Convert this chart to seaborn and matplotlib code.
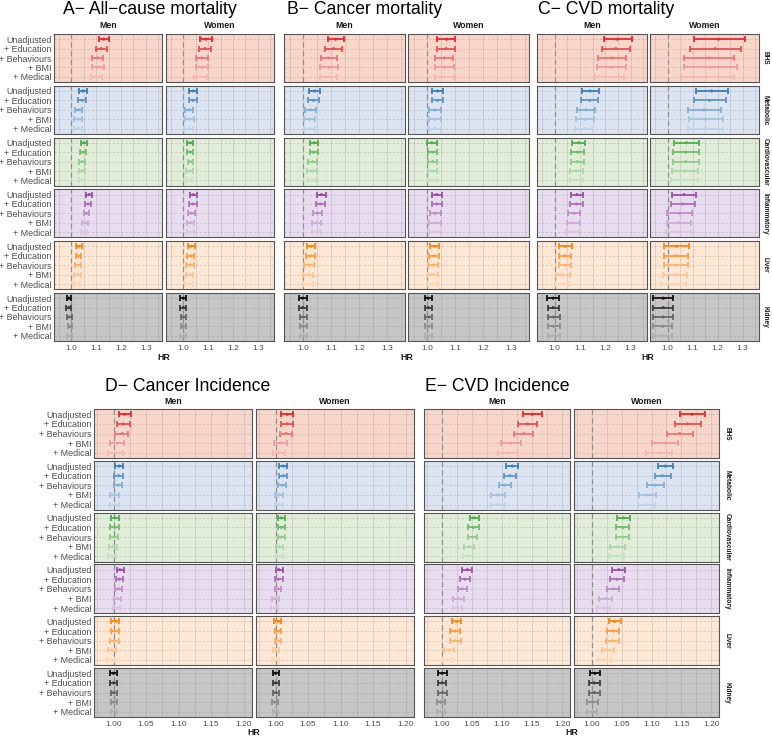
import numpy as np
import pandas as pd
import matplotlib
matplotlib.use("Agg")
import matplotlib.pyplot as plt
import seaborn as sns
from matplotlib.colors import to_rgb

sns.set_theme(style="white")
plt.rcParams['font.family'] = ['Liberation Sans', 'DejaVu Sans']

models = ["Unadjusted", "+ Education", "+ Behaviours", "+ BMI", "+ Medical"]
systems = ["BHS", "Metabolic", "Cardiovascular", "Inflammatory", "Liver", "Kidney"]
sexes = ["Men", "Women"]

# ---------------- A: All-cause mortality ----------------
A_men_est = [[1.130, 1.120, 1.105, 1.105, 1.100], [1.046, 1.043, 1.028, 1.027, 1.026], [1.050, 1.047, 1.043, 1.042, 1.042],
             [1.072, 1.067, 1.060, 1.054, 1.052], [1.030, 1.028, 1.026, 1.025, 1.022], [0.990, 0.989, 0.992, 0.994, 0.993]]
A_men_lo = [[1.110, 1.101, 1.084, 1.084, 1.080], [1.032, 1.028, 1.014, 1.012, 1.012], [1.039, 1.035, 1.031, 1.030, 1.031],
            [1.059, 1.054, 1.049, 1.043, 1.040], [1.019, 1.018, 1.015, 1.012, 1.009], [0.981, 0.980, 0.983, 0.985, 0.984]]
A_men_hi = [[1.151, 1.145, 1.127, 1.130, 1.125], [1.061, 1.057, 1.043, 1.043, 1.041], [1.061, 1.058, 1.055, 1.055, 1.054],
            [1.084, 1.080, 1.070, 1.065, 1.063], [1.041, 1.039, 1.038, 1.038, 1.035], [1.000, 0.999, 1.002, 1.004, 1.003]]
A_women_est = [[1.090, 1.087, 1.073, 1.075, 1.070], [1.040, 1.038, 1.024, 1.025, 1.022], [1.028, 1.028, 1.028, 1.025, 1.024],
               [1.040, 1.038, 1.032, 1.030, 1.028], [1.031, 1.030, 1.028, 1.026, 1.022], [1.000, 1.000, 1.000, 0.999, 0.999]]
A_women_lo = [[1.066, 1.063, 1.049, 1.049, 1.044], [1.023, 1.021, 1.008, 1.008, 1.004], [1.016, 1.016, 1.017, 1.012, 1.012],
              [1.026, 1.023, 1.018, 1.016, 1.013], [1.017, 1.016, 1.012, 1.012, 1.008], [0.988, 0.988, 0.989, 0.989, 0.988]]
A_women_hi = [[1.114, 1.112, 1.098, 1.101, 1.097], [1.056, 1.056, 1.040, 1.041, 1.040], [1.040, 1.040, 1.040, 1.038, 1.036],
              [1.053, 1.053, 1.045, 1.043, 1.043], [1.045, 1.044, 1.043, 1.040, 1.037], [1.012, 1.011, 1.011, 1.009, 1.010]]

# ---------------- B: Cancer mortality ----------------
B_men_est = [[1.115, 1.108, 1.090, 1.092, 1.090], [1.040, 1.037, 1.025, 1.022, 1.022], [1.039, 1.036, 1.033, 1.031, 1.031],
             [1.065, 1.061, 1.050, 1.047, 1.047], [1.026, 1.025, 1.020, 1.018, 1.018], [0.997, 0.997, 1.000, 1.000, 0.999]]
B_men_lo = [[1.088, 1.079, 1.063, 1.060, 1.059], [1.021, 1.017, 1.005, 1.003, 1.003], [1.024, 1.022, 1.017, 1.014, 1.017],
            [1.050, 1.046, 1.035, 1.031, 1.031], [1.011, 1.010, 1.002, 1.000, 1.000], [0.983, 0.984, 0.987, 0.987, 0.986]]
B_men_hi = [[1.146, 1.138, 1.122, 1.124, 1.122], [1.059, 1.057, 1.045, 1.040, 1.040], [1.054, 1.051, 1.050, 1.048, 1.046],
            [1.080, 1.076, 1.065, 1.063, 1.062], [1.042, 1.041, 1.037, 1.035, 1.035], [1.011, 1.011, 1.013, 1.013, 1.013]]
B_women_est = [[1.068, 1.067, 1.060, 1.061, 1.060], [1.036, 1.036, 1.026, 1.026, 1.026], [1.015, 1.018, 1.019, 1.017, 1.017],
               [1.033, 1.033, 1.028, 1.027, 1.027], [1.026, 1.025, 1.021, 1.020, 1.020], [1.003, 1.003, 1.004, 1.004, 1.004]]
B_women_lo = [[1.036, 1.036, 1.028, 1.026, 1.026], [1.016, 1.016, 1.005, 1.005, 1.005], [0.997, 1.001, 1.003, 1.001, 1.001],
              [1.016, 1.015, 1.010, 1.007, 1.007], [1.010, 1.007, 1.003, 1.002, 1.002], [0.990, 0.990, 0.991, 0.991, 0.992]]
B_women_hi = [[1.099, 1.099, 1.092, 1.095, 1.095], [1.057, 1.057, 1.048, 1.047, 1.050], [1.033, 1.034, 1.035, 1.033, 1.033],
              [1.051, 1.051, 1.047, 1.047, 1.047], [1.043, 1.042, 1.039, 1.039, 1.038], [1.017, 1.017, 1.018, 1.017, 1.017]]

# ---------------- C: CVD mortality ----------------
C_men_est = [[1.248, 1.242, 1.228, 1.222, 1.215], [1.140, 1.138, 1.124, 1.120, 1.117], [1.094, 1.090, 1.089, 1.085, 1.084],
             [1.088, 1.086, 1.077, 1.073, 1.070], [1.041, 1.040, 1.040, 1.032, 1.028], [0.994, 0.994, 0.996, 0.996, 0.996]]
C_men_lo = [[1.195, 1.187, 1.173, 1.166, 1.158], [1.107, 1.104, 1.090, 1.086, 1.082], [1.068, 1.064, 1.064, 1.059, 1.059],
            [1.063, 1.061, 1.051, 1.047, 1.045], [1.017, 1.016, 1.016, 1.005, 1.001], [0.971, 0.972, 0.972, 0.974, 0.974]]
C_men_hi = [[1.307, 1.298, 1.283, 1.281, 1.274], [1.177, 1.173, 1.159, 1.155, 1.153], [1.121, 1.117, 1.114, 1.112, 1.110],
            [1.113, 1.111, 1.102, 1.099, 1.096], [1.067, 1.066, 1.066, 1.059, 1.055], [1.017, 1.016, 1.020, 1.019, 1.019]]
C_women_est = [[1.203, 1.190, 1.165, 1.170, 1.158], [1.175, 1.168, 1.145, 1.152, 1.150], [1.075, 1.073, 1.073, 1.069, 1.066],
               [1.065, 1.060, 1.048, 1.046, 1.044], [1.036, 1.034, 1.033, 1.030, 1.024], [0.983, 0.983, 0.982, 0.980, 0.980]]
C_women_lo = [[1.105, 1.091, 1.067, 1.065, 1.054], [1.113, 1.105, 1.083, 1.086, 1.083], [1.025, 1.022, 1.022, 1.018, 1.014],
              [1.017, 1.012, 0.999, 0.997, 0.995], [0.987, 0.985, 0.984, 0.981, 0.974], [0.943, 0.942, 0.942, 0.941, 0.940]]
C_women_hi = [[1.311, 1.292, 1.267, 1.279, 1.267], [1.242, 1.233, 1.212, 1.221, 1.221], [1.126, 1.126, 1.126, 1.122, 1.120],
              [1.112, 1.108, 1.096, 1.095, 1.094], [1.085, 1.083, 1.082, 1.078, 1.074], [1.023, 1.023, 1.021, 1.018, 1.018]]

# ---------------- D: Cancer incidence ----------------
D_men_est = [[1.017, 1.015, 1.013, 1.006, 1.003], [1.009, 1.008, 1.007, 1.002, 1.002], [1.002, 1.002, 1.001, 0.999, 0.998],
             [1.010, 1.009, 1.008, 1.006, 1.005], [1.003, 1.002, 1.001, 0.998, 0.997], [1.000, 1.000, 1.000, 1.000, 1.000]]
D_men_lo = [[1.008, 1.005, 1.003, 0.995, 0.992], [1.002, 1.001, 1.000, 0.995, 0.995], [0.996, 0.995, 0.995, 0.993, 0.992],
            [1.005, 1.004, 1.002, 1.000, 0.999], [0.996, 0.996, 0.995, 0.992, 0.990], [0.995, 0.995, 0.996, 0.996, 0.996]]
D_men_hi = [[1.027, 1.025, 1.023, 1.016, 1.014], [1.015, 1.014, 1.013, 1.009, 1.009], [1.008, 1.008, 1.007, 1.005, 1.004],
            [1.016, 1.015, 1.013, 1.011, 1.010], [1.009, 1.009, 1.008, 1.004, 1.003], [1.005, 1.005, 1.005, 1.005, 1.005]]
D_women_est = [[1.018, 1.018, 1.016, 1.007, 1.005], [1.012, 1.012, 1.010, 1.005, 1.005], [1.009, 1.009, 1.009, 1.006, 1.006],
               [1.005, 1.004, 1.004, 1.000, 0.999], [1.004, 1.004, 1.004, 1.001, 1.000], [1.000, 1.000, 1.000, 0.999, 0.999]]
D_women_lo = [[1.009, 1.009, 1.007, 0.998, 0.996], [1.006, 1.006, 1.004, 0.999, 0.999], [1.004, 1.004, 1.004, 1.001, 1.000],
              [1.000, 0.999, 0.999, 0.994, 0.993], [0.998, 0.999, 0.999, 0.996, 0.994], [0.996, 0.996, 0.996, 0.995, 0.996]]
D_women_hi = [[1.027, 1.027, 1.025, 1.017, 1.014], [1.018, 1.018, 1.016, 1.012, 1.011], [1.015, 1.015, 1.015, 1.011, 1.011],
              [1.011, 1.011, 1.009, 1.005, 1.004], [1.009, 1.009, 1.009, 1.006, 1.005], [1.005, 1.005, 1.005, 1.004, 1.004]]

# ---------------- E: CVD incidence ----------------
E_men_est = [[1.150, 1.142, 1.136, 1.114, 1.110], [1.117, 1.113, 1.104, 1.093, 1.092], [1.054, 1.052, 1.051, 1.045, 1.043],
             [1.042, 1.038, 1.034, 1.027, 1.026], [1.024, 1.022, 1.022, 1.012, 1.008], [1.000, 1.000, 1.001, 0.998, 0.998]]
E_men_lo = [[1.134, 1.127, 1.120, 1.098, 1.093], [1.107, 1.103, 1.094, 1.082, 1.081], [1.046, 1.044, 1.043, 1.037, 1.035],
            [1.034, 1.030, 1.026, 1.019, 1.018], [1.016, 1.014, 1.014, 1.004, 1.000], [0.993, 0.993, 0.994, 0.991, 0.991]]
E_men_hi = [[1.166, 1.158, 1.152, 1.131, 1.126], [1.127, 1.123, 1.115, 1.104, 1.104], [1.062, 1.061, 1.059, 1.053, 1.051],
            [1.050, 1.047, 1.042, 1.036, 1.034], [1.032, 1.030, 1.031, 1.020, 1.017], [1.008, 1.007, 1.008, 1.005, 1.005]]
E_women_est = [[1.168, 1.160, 1.147, 1.123, 1.113], [1.123, 1.118, 1.106, 1.093, 1.091], [1.053, 1.052, 1.052, 1.043, 1.041],
               [1.045, 1.042, 1.036, 1.023, 1.020], [1.038, 1.036, 1.034, 1.027, 1.021], [1.005, 1.004, 1.004, 1.001, 1.001]]
E_women_lo = [[1.147, 1.139, 1.126, 1.101, 1.090], [1.110, 1.105, 1.092, 1.079, 1.077], [1.042, 1.041, 1.041, 1.031, 1.029],
              [1.034, 1.031, 1.025, 1.012, 1.009], [1.028, 1.026, 1.024, 1.017, 1.010], [0.996, 0.995, 0.995, 0.992, 0.992]]
E_women_hi = [[1.190, 1.182, 1.169, 1.145, 1.135], [1.136, 1.132, 1.120, 1.107, 1.105], [1.064, 1.063, 1.063, 1.055, 1.053],
              [1.056, 1.053, 1.046, 1.034, 1.031], [1.048, 1.046, 1.045, 1.037, 1.032], [1.014, 1.013, 1.013, 1.010, 1.009]]

titles = {"A": "A\u2212 All\u2212cause mortality", "B": "B\u2212 Cancer mortality", "C": "C\u2212 CVD mortality",
          "D": "D\u2212 Cancer Incidence", "E": "E\u2212 CVD Incidence"}

base_colors = ["#E8282B", "#3C80BF", "#4DAF4A", "#9C4FA8", "#FF8515", "#111111"]
bg_colors = ["#F9D6CA", "#DCE3F1", "#E1EDD9", "#E8DDEF", "#FEE8D5", "#C6C6C6"]
shade_mix = [1.0, 0.82, 0.64, 0.48, 0.34]

# ---- assemble long table ----
raw = {"A": (A_men_est, A_men_lo, A_men_hi, A_women_est, A_women_lo, A_women_hi),
       "B": (B_men_est, B_men_lo, B_men_hi, B_women_est, B_women_lo, B_women_hi),
       "C": (C_men_est, C_men_lo, C_men_hi, C_women_est, C_women_lo, C_women_hi),
       "D": (D_men_est, D_men_lo, D_men_hi, D_women_est, D_women_lo, D_women_hi),
       "E": (E_men_est, E_men_lo, E_men_hi, E_women_est, E_women_lo, E_women_hi)}
rows = []
for key, arrs in raw.items():
    for si, sex in enumerate(sexes):
        est, lo, hi = arrs[3 * si], arrs[3 * si + 1], arrs[3 * si + 2]
        for gi, sysname in enumerate(systems):
            for mi, m in enumerate(models):
                rows.append(dict(panel=key, sex=sex, system=sysname, model=m, ypos=mi + 1,
                                 est=est[gi][mi], lo=lo[gi][mi], hi=hi[gi][mi]))
df = pd.DataFrame(rows)


def shade(c, f):
    r = np.array(to_rgb(c))
    return tuple(1 - f * (1 - r))


W, H = 772, 736
fig = plt.figure(figsize=(W / 100, H / 100), dpi=100)


def add_ax(x0, x1, top, h):
    return fig.add_axes([x0 / W, 1 - (top + h) / H, (x1 - x0) / W, h / H])


top_cfg = dict(top=34, h=48, step=51.8, xlim=(0.93, 1.365), ticks=[1.0, 1.1, 1.2, 1.3],
               minor=[0.95, 1.05, 1.15, 1.25, 1.35], fmt="{:.1f}", strip_y=26, hr_y=358, title_y=10)
bot_cfg = dict(top=409, h=49, step=51.8, xlim=(0.970, 1.213), ticks=[1.00, 1.05, 1.10, 1.15, 1.20],
               minor=[0.975, 1.025, 1.075, 1.125, 1.175], fmt="{:.2f}", strip_y=402, hr_y=732.5, title_y=386)

layout = [
    ("A", top_cfg, [(54, 162), (166, 274)], 63, True, None),
    ("B", top_cfg, [(284, 405), (408, 529)], 287, False, None),
    ("C", top_cfg, [(537, 647), (650, 759)], 538, False, 765),
    ("D", bot_cfg, [(94, 252), (256, 414)], 105, True, None),
    ("E", bot_cfg, [(424, 570), (574, 719)], 425, False, 727),
]

text_grey = "#4D4D4D"
for key, cfg, cols, title_x, ylab, strip_x in layout:
    fig.text(title_x / W, 1 - cfg["title_y"] / H, titles[key], fontsize=12.7, ha="left", va="center", color="black")
    for ci, (x0, x1) in enumerate(cols):
        sex = sexes[ci]
        fig.text((x0 + x1) / 2 / W, 1 - cfg["strip_y"] / H, sex, fontsize=6.3, fontweight="bold",
                 ha="center", va="center", color="#1A1A1A")
        for gi, sysname in enumerate(systems):
            top = cfg["top"] + gi * cfg["step"]
            ax = add_ax(x0, x1, top, cfg["h"])
            ax.set_facecolor(bg_colors[gi])
            sub = df[(df.panel == key) & (df.sex == sex) & (df.system == sysname)]
            pal = {m: shade(base_colors[gi], shade_mix[mi]) for mi, m in enumerate(models)}
            ax.set_xticks(cfg["ticks"])
            ax.set_xticks(cfg["minor"], minor=True)
            ax.set_yticks(range(1, 6))
            ax.grid(True, which="both", axis="x", color="#8A8A8A", alpha=0.3, lw=0.6, zorder=0)
            ax.grid(True, which="major", axis="y", color="#8A8A8A", alpha=0.35, lw=0.6, ls=(0, (3, 2)), zorder=0)
            ax.axvline(1.0, color="#8F8F8F", lw=0.9, ls=(0, (4, 3)), zorder=1)
            for _, r in sub.iterrows():
                ax.errorbar(r.est, r.ypos, xerr=[[r.est - r.lo], [r.hi - r.est]], fmt="none",
                            ecolor=pal[r.model], elinewidth=1.3, capsize=2.5, capthick=1.3, zorder=2)
            sns.scatterplot(data=sub, x="est", y="ypos", hue="model", palette=pal, s=5, linewidth=0,
                            legend=False, ax=ax, zorder=3)
            ax.set_xlim(*cfg["xlim"])
            ax.set_ylim(5.55, 0.45)
            ax.set_xlabel("")
            ax.set_ylabel("")
            for sp in ax.spines.values():
                sp.set_color("#555555")
                sp.set_linewidth(0.8)
            last = gi == len(systems) - 1
            ax.tick_params(axis="x", which="major", length=1.2 if last else 0, color="#555555",
                           labelbottom=last, labelsize=6.0, labelcolor=text_grey, pad=1.5)
            ax.tick_params(axis="x", which="minor", length=0)
            if last:
                ax.set_xticklabels([cfg["fmt"].format(t) for t in cfg["ticks"]])
            if ylab and ci == 0:
                ax.set_yticklabels(models)
                ax.tick_params(axis="y", length=0, labelsize=6.4, labelcolor=text_grey, pad=1.5, labelleft=True)
            else:
                ax.tick_params(axis="y", length=0, labelleft=False)
            if strip_x is not None and ci == 1:
                fig.text(strip_x / W, 1 - (top + cfg["h"] / 2) / H, sysname, rotation=270, fontsize=4.7,
                         fontweight="bold", ha="center", va="center", color="#1A1A1A")
    cx = (cols[0][0] + cols[1][1]) / 2
    fig.text(cx / W, 1 - cfg["hr_y"] / H, "HR", fontsize=6.3, fontweight="bold", ha="center", va="center",
             color="#1A1A1A")

fig.savefig("out.png", dpi=100)
